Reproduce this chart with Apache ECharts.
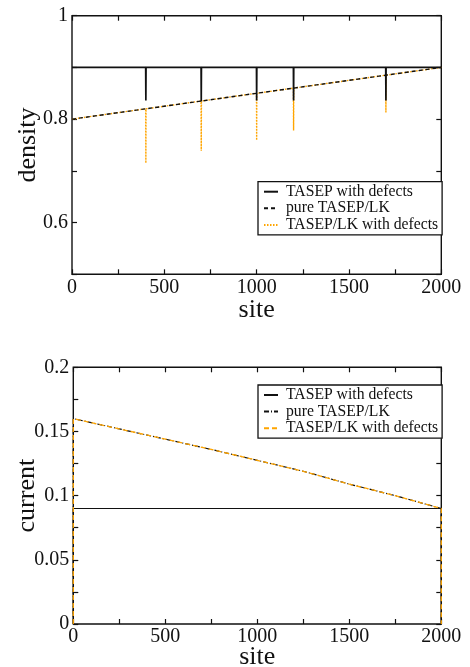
<!DOCTYPE html>
<html>
<head>
<meta charset="utf-8">
<script src="https://cdn.jsdelivr.net/npm/echarts@6/dist/echarts.min.js"></script>
<style>
  html, body { margin: 0; padding: 0; background: #fff; width: 470px; height: 667px; overflow: hidden; }
  #density { position: absolute; left: 0; top: 0; width: 470px; height: 330px; }
  #current { position: absolute; left: 0; top: 330px; width: 470px; height: 337px; }
</style>
</head>
<body>
<div id="density"></div>
<div id="current"></div>
<script>
// Series names shared by both panels
const seriesNames = ['TASEP with defects', 'pure TASEP/LK', 'TASEP/LK with defects'];

// Axis ranges / tick steps
const siteRange = [0, 2000];
const siteStep = 500;
const densityRange = [0.5, 1];
const densityStep = 0.1;
const currentRange = [0, 0.2];
const currentStep = 0.05;

// Density profiles: [site, density]
const densityTasepDefects = [
  [0, 0.9], [399, 0.9], [400, 0.836], [401, 0.9],
  [699, 0.9], [700, 0.834], [701, 0.9],
  [999, 0.9], [1000, 0.836], [1001, 0.9],
  [1199, 0.9], [1200, 0.836], [1201, 0.9],
  [1699, 0.9], [1700, 0.836], [1701, 0.9],
  [2000, 0.9]
];
const densityPureLK = [[0, 0.8], [2000, 0.9]];
const densityLKDefects = [
  [0, 0.8], [399, 0.82], [400, 0.715], [401, 0.82],
  [699, 0.835], [700, 0.739], [701, 0.835],
  [999, 0.85], [1000, 0.759], [1001, 0.85],
  [1199, 0.86], [1200, 0.778], [1201, 0.86],
  [1699, 0.885], [1700, 0.813], [1701, 0.885],
  [2000, 0.9]
];

// Current profiles: [site, current]
const currentTasepDefects = [[0, 0], [0, 0.09], [2000, 0.09], [2000, 0]];
const currentPureLK = [
  [0, 0], [0, 0.16], [250, 0.152], [500, 0.144], [750, 0.136], [1000, 0.1275],
  [1250, 0.119], [1500, 0.109], [1750, 0.1], [2000, 0.09], [2000, 0]
];
const currentLKDefects = [
  [0, 0], [0, 0.16], [250, 0.152], [500, 0.144], [750, 0.136], [1000, 0.1275],
  [1250, 0.119], [1500, 0.109], [1750, 0.1], [2000, 0.09], [2000, 0]
];

const FONT = '"Liberation Serif", "DejaVu Serif", serif';
const INK = '#111';
const ORANGE = '#ffa500';

// Value axis with inward ticks; the plot frame comes from the grid border
function frameAxis(range, step, minor) {
  return {
    type: 'value', min: range[0], max: range[1], interval: step,
    axisLine: { show: false, onZero: false }, splitLine: { show: false },
    axisTick: { show: true, inside: true, length: 5, lineStyle: { color: INK, width: 1.2 } },
    minorTick: minor
      ? { show: true, splitNumber: 2, length: 5, lineStyle: { color: INK, width: 1.2 } }
      : { show: false }
  };
}

function xAxes(nameGap) {
  const main = Object.assign(frameAxis(siteRange, siteStep, true), {
    position: 'bottom',
    name: 'site', nameLocation: 'middle', nameGap: nameGap, nameMoveOverlap: false,
    nameTextStyle: { fontFamily: FONT, fontSize: 26, color: INK },
    axisLabel: { fontFamily: FONT, fontSize: 20, color: INK, margin: 3, formatter: v => String(v) }
  });
  const mirror = Object.assign(frameAxis(siteRange, siteStep, true), {
    position: 'top', axisLabel: { show: false }
  });
  return [main, mirror];
}

function yAxes(range, step, name, minor, nameGap, fmt) {
  const main = Object.assign(frameAxis(range, step, minor), {
    position: 'left',
    name: name, nameLocation: 'middle', nameGap: nameGap, nameMoveOverlap: false,
    nameTextStyle: { fontFamily: FONT, fontSize: 26, color: INK },
    axisLabel: { fontFamily: FONT, fontSize: 20, color: INK, margin: 4, formatter: fmt }
  });
  const mirror = Object.assign(frameAxis(range, step, minor), {
    position: 'right', axisLabel: { show: false }
  });
  return [main, mirror];
}

function legendBox(top) {
  return {
    orient: 'vertical', left: 258, top: top,
    data: seriesNames,
    backgroundColor: '#fff', borderColor: INK, borderWidth: 1.3,
    padding: [2, 4, 2, 5], itemGap: 0.6, itemWidth: 14, itemHeight: 14,
    selectedMode: false,
    itemStyle: { opacity: 0 },
    textStyle: { fontFamily: FONT, fontSize: 15.7, color: INK, lineHeight: 14, padding: [0, 0, 0, 3] }
  };
}

function line(name, data, color, width, type, z) {
  return {
    name: name, type: 'line', data: data, symbol: 'none', showSymbol: false,
    xAxisIndex: 0, yAxisIndex: 0, z: z, animation: false,
    lineStyle: { color: color, width: width, type: type },
    itemStyle: { color: color }
  };
}

const densityChart = echarts.init(document.getElementById('density'), null, { renderer: 'canvas' });
densityChart.setOption({
  animation: false,
  grid: {
    left: 72, top: 15.7, width: 369.3, height: 258.6, outerBoundsMode: 'none', containLabel: false,
    show: true, borderColor: INK, borderWidth: 1.4, backgroundColor: 'transparent'
  },
  xAxis: xAxes(23),
  yAxis: yAxes(densityRange, densityStep, 'density', false, 31, v => {
    const k = Math.round(v * 10);
    return k % 2 === 0 ? String(k / 10) : '';
  }),
  legend: legendBox(181.7),
  series: [
    line(seriesNames[2], densityLKDefects, ORANGE, 1.4, [1.5, 1.5], 2),
    line(seriesNames[1], densityPureLK, INK, 1.4, [4, 3], 3),
    line(seriesNames[0], densityTasepDefects, INK, 1.7, 'solid', 4)
  ]
});

const currentChart = echarts.init(document.getElementById('current'), null, { renderer: 'canvas' });
currentChart.setOption({
  animation: false,
  grid: {
    left: 73.3, top: 37.3, width: 368, height: 256.7, outerBoundsMode: 'none', containLabel: false,
    show: true, borderColor: INK, borderWidth: 1.4, backgroundColor: 'transparent'
  },
  xAxis: xAxes(20),
  yAxis: yAxes(currentRange, currentStep, 'current', true, 33, v => String(+v.toFixed(3))),
  legend: legendBox(55),
  series: [
    line(seriesNames[0], currentTasepDefects, INK, 1.2, 'solid', 2),
    line(seriesNames[1], currentPureLK, INK, 1.2, [5, 2, 1, 2], 3),
    line(seriesNames[2], currentLKDefects, ORANGE, 1.3, [5, 3], 4)
  ]
});
</script>
</body>
</html>
